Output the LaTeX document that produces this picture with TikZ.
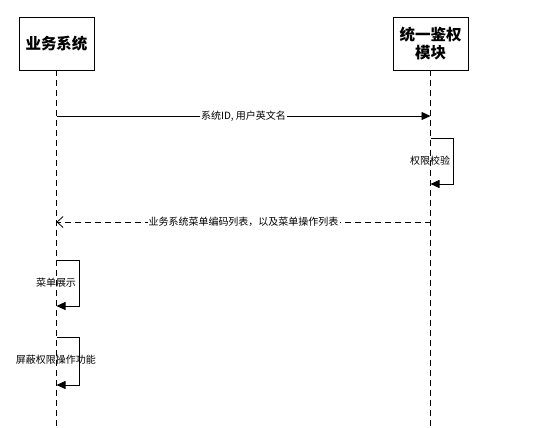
\documentclass[tikz,border=0pt]{standalone}
\usepackage{fontspec}
\usepackage{tikz}
\usetikzlibrary{arrows.meta,positioning}
\newfontfamily\cjk{Noto Sans CJK SC}

\begin{document}
\begin{tikzpicture}[
x=1pt, y=-1pt,
every node/.style={font=\cjk\fontsize{10}{12}\selectfont},
actor/.style={draw, line width=0.8pt, align=center, minimum width=75pt, minimum height=53pt, inner sep=2pt, font=\cjk\bfseries\fontsize{15.5}{18}\selectfont},
life/.style={line width=0.8pt, dash pattern=on 6pt off 4pt},
msg/.style={-{Triangle[length=9pt,width=8pt]}, line width=0.8pt},
ret/.style={-{Straight Barb[length=6pt,width=11pt]}, line width=0.8pt, dash pattern=on 6pt off 4pt},
lbl/.style={fill=white, inner sep=1pt}
]
\useasboundingbox (0,0) rectangle (547,428);

% Actors
\node[actor] (sys) at (56.5,43.5) {业务系统};
\node[actor] (auth) at (430.5,43.5) {统一鉴权\\模块};

% Lifelines
\coordinate (sysEnd) at (56.5,428);
\coordinate (authEnd) at (430.5,428);
\draw[life] (sys.south) -- (sysEnd);
\draw[life] (auth.south) -- (authEnd);

% Request
\coordinate (m1a) at (56.5,116);
\coordinate (m1b) at (430.5,116);
\draw[msg] (m1a) -- node[lbl] (m1) {系统ID, 用户英文名} (m1b);

% Self call on auth
\coordinate (c1a) at (430.5,138);
\coordinate (c1b) at (430.5,184);
\draw[msg] (c1a) -- ++(23,0) |- (c1b);
\node (chk) at (430,161) {权限校验};

% Reply
\coordinate (r1a) at (430.5,222);
\coordinate (r1b) at (56.5,222);
\draw[ret] (r1a) -- node[lbl] (r1) {业务系统菜单编码列表，以及菜单操作列表} (r1b);

% Self calls on sys
\coordinate (s1a) at (56.5,260);
\coordinate (s1b) at (56.5,306);
\draw[msg] (s1a) -- ++(23,0) |- (s1b);
\node (show) at (56,283) {菜单展示};

\coordinate (s2a) at (56.5,337);
\coordinate (s2b) at (56.5,385);
\draw[msg] (s2a) -- ++(23,0) |- (s2b);
\node (mask) at (56,360) {屏蔽权限操作功能};
\end{tikzpicture}
\end{document}
